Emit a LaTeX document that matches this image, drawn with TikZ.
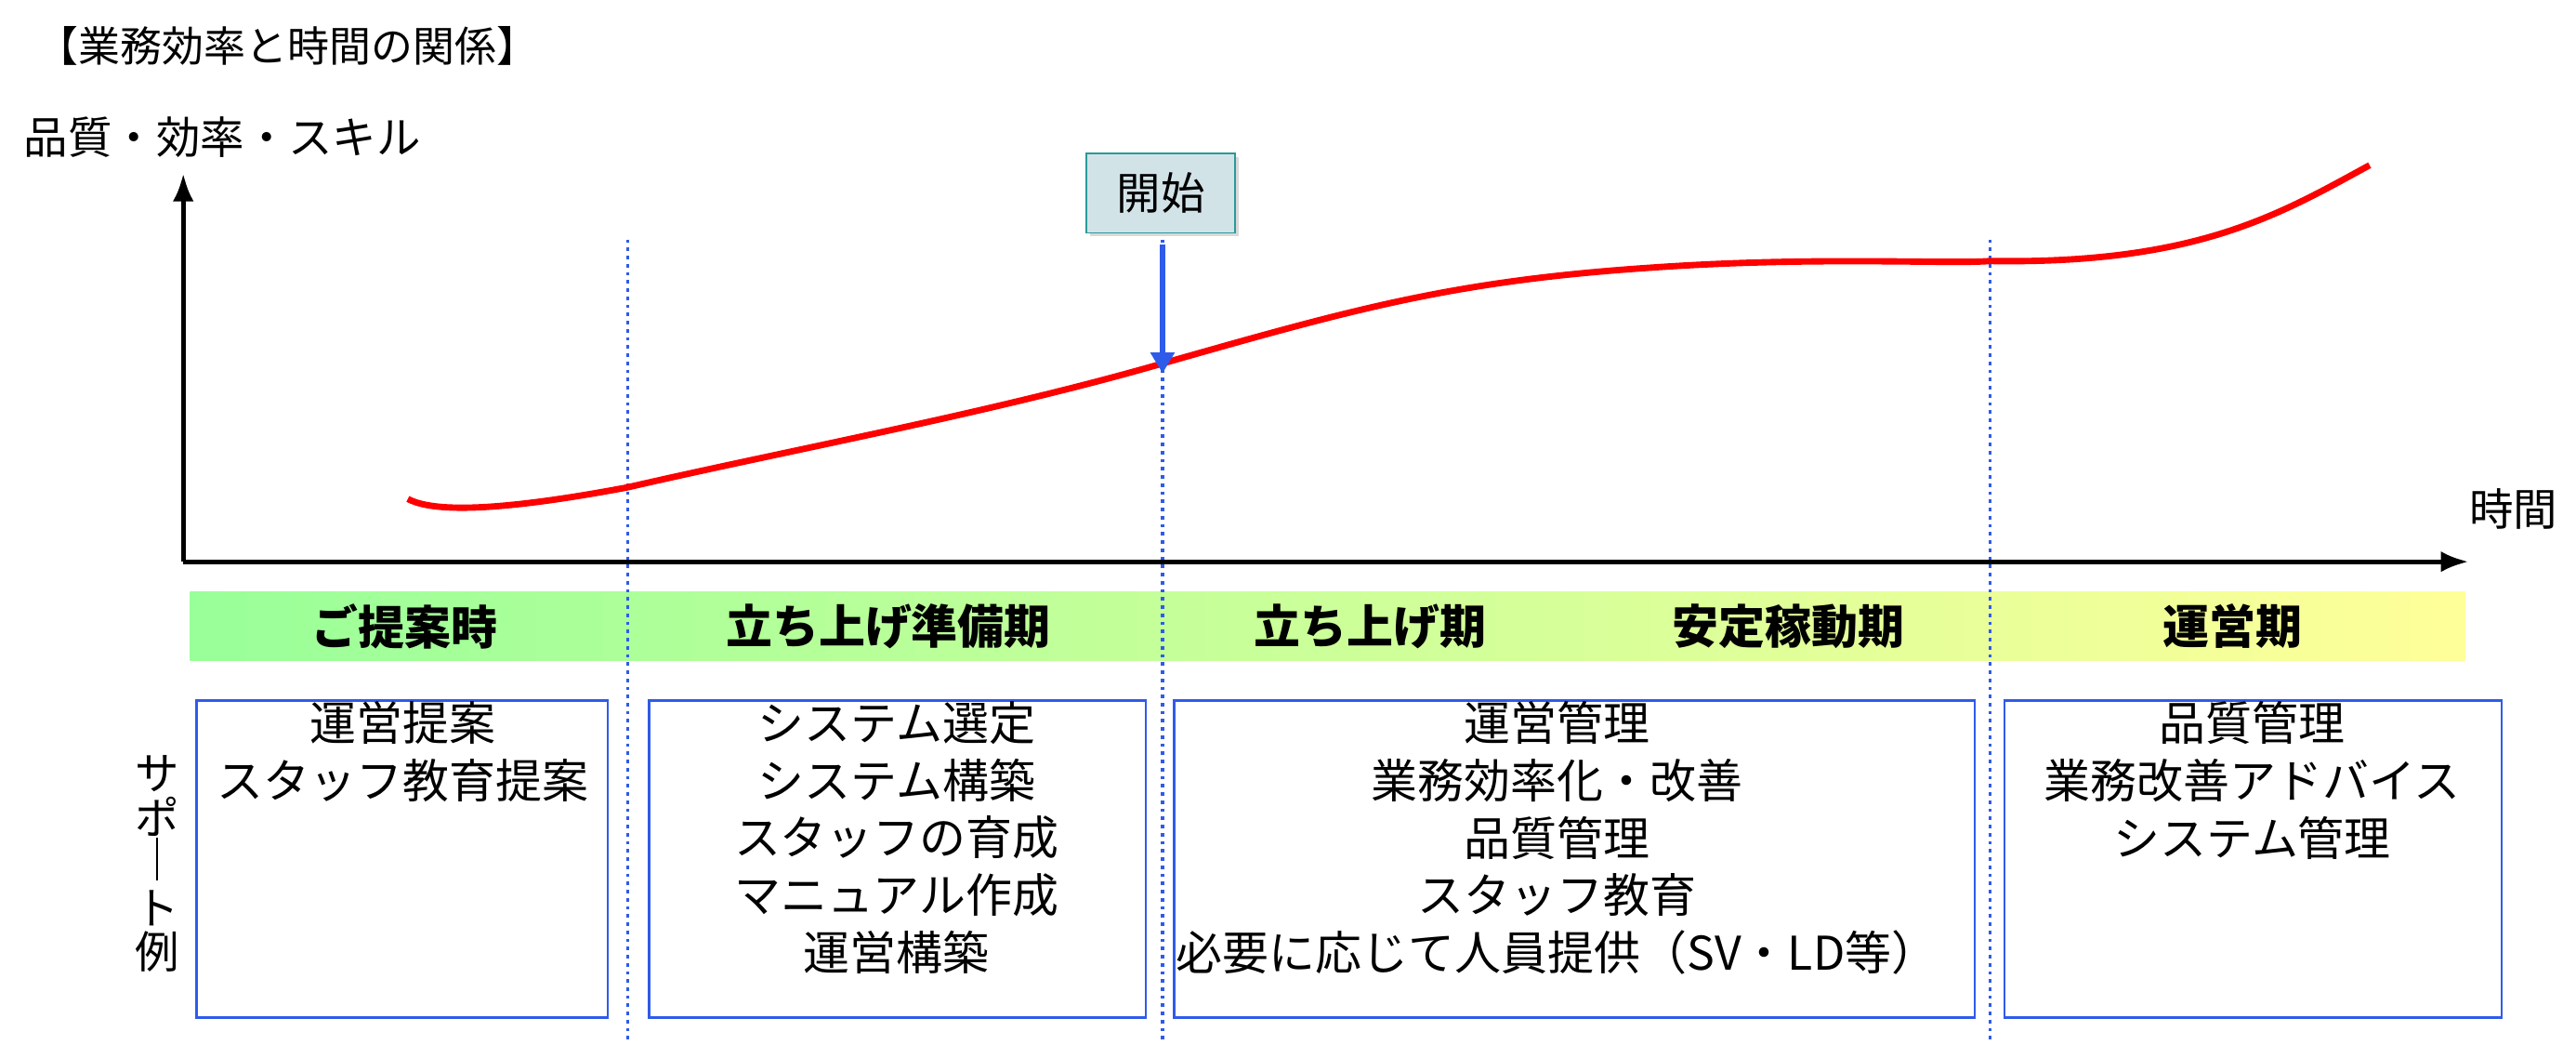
\documentclass[tikz,border=0pt]{standalone}
\usepackage{fontspec}
\setmainfont{Noto Sans CJK JP}
\usetikzlibrary{arrows.meta,shadows}
\definecolor{phaseblue}{HTML}{2F5BEA}
\definecolor{startfill}{HTML}{D2E3E8}
\definecolor{startedge}{HTML}{2A9A98}
\tikzset{
  body/.style={font=\fontsize{40}{49.5}\selectfont, align=center},
  phase/.style={font=\fontsize{40}{48}\selectfont\bfseries},
  supportbox/.style={draw=phaseblue, line width=2pt},
  divider/.style={draw=phaseblue, dash pattern=on 3pt off 4pt, line width=2.5pt}
}
\begin{document}
\begin{tikzpicture}[x=0.05cm, y=-0.05cm]
  \useasboundingbox (0,0) rectangle (1560,632);

  \node[anchor=west, font=\fontsize{36}{40}\selectfont] (title) at (20,28) {【業務効率と時間の関係】};
  \node[anchor=west, font=\fontsize{38}{42}\selectfont] (ylabel) at (12,83) {品質・効率・スキル};
  \node[font=\fontsize{38}{42}\selectfont] (xlabel) at (1522,308) {時間};

  % axes
  \coordinate (o) at (111,340);
  \coordinate (ytop) at (111,105);
  \coordinate (xend) at (1495,340);
  \draw[line width=4pt, -{Latex[length=24pt]}] (o) -- (ytop);
  \draw[line width=4pt, -{Latex[length=24pt]}] (o) -- (xend);

  % phase bar
  \shade[left color=green!40, right color=yellow!40] (115,358) rectangle (1493,400);
  \node[phase] (p1) at (245,379) {ご提案時};
  \node[phase] (p2) at (538,379) {立ち上げ準備期};
  \node[phase] (p3) at (830,379) {立ち上げ期};
  \node[phase] (p4) at (1083,379) {安定稼動期};
  \node[phase] (p5) at (1352,379) {運営期};

  % dividers
  \foreach \x in {380,704,1205}
    \draw[divider] (\x,145) -- (\x,632);

  % curve
  \draw[red, line width=5.5pt] (247,302) .. controls (262,310) and (300,310) .. (380,295)
    .. controls (480,272) and (600,250) .. (704,220)
    .. controls (820,187) and (880,170) .. (1000,162)
    .. controls (1100,155) and (1180,160) .. (1205,158)
    .. controls (1330,160) and (1380,130) .. (1435,100);

  % start
  \node[draw=startedge, fill=startfill, line width=1.5pt, minimum width=4.5cm, minimum height=2.4cm,
        drop shadow={opacity=0.3}, font=\fontsize{38}{42}\selectfont] (start) at (703,117) {開始};
  \coordinate (hit) at (704,226);
  \draw[phaseblue, line width=4.5pt, -{Triangle[length=18pt,width=20pt]}] (704,148) -- (hit);

  % support boxes
  \draw[supportbox] (119,424) rectangle (368,616);
  \draw[supportbox] (393,424) rectangle (694,616);
  \draw[supportbox] (711,424) rectangle (1196,616);
  \draw[supportbox] (1214,424) rectangle (1515,616);

  \node[body, anchor=north] (s1) at (244,422) {運営提案\\スタッフ教育提案};
  \node[body, anchor=north] (s2) at (543,422) {システム選定\\システム構築\\スタッフの育成\\マニュアル作成\\運営構築};
  \node[body, anchor=north] (s3) at (943,422) {運営管理\\業務効率化・改善\\品質管理\\スタッフ教育\\必要に応じて人員提供（SV・LD等）};
  \node[body, anchor=north] (s4) at (1364,422) {品質管理\\業務改善アドバイス\\システム管理};

  \node[body, font=\fontsize{38}{38}\selectfont] (support) at (95,523) {サ\\ポ\\\rule{2pt}{1.3cm}\\ト\\例};
\end{tikzpicture}
\end{document}
